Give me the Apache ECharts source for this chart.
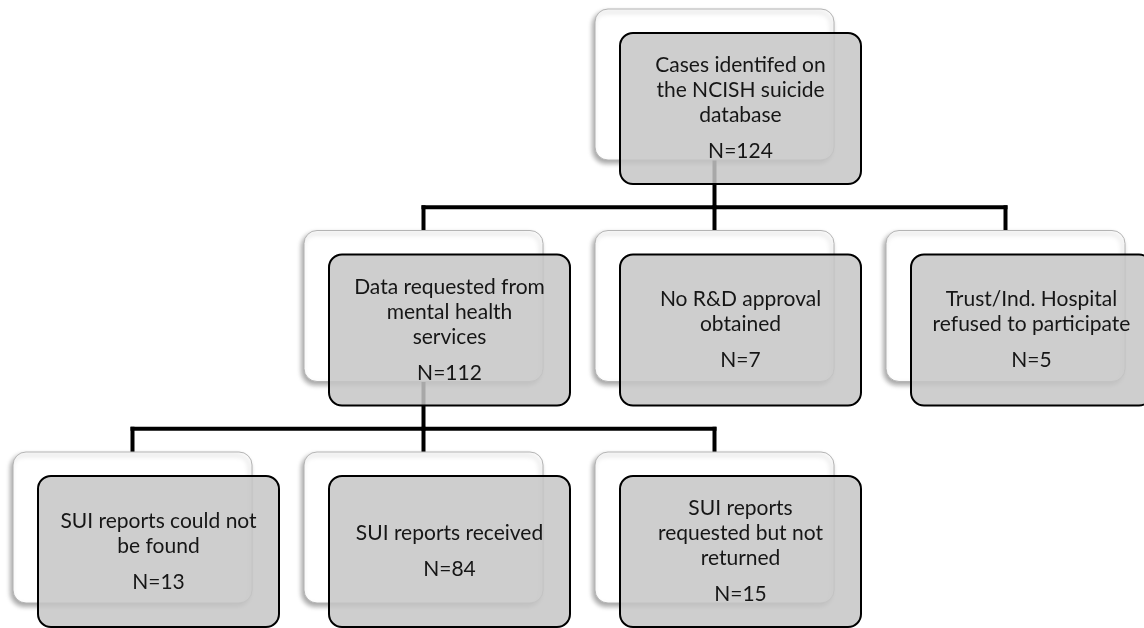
<!DOCTYPE html>
<html>
<head>
<meta charset="utf-8">
<script src="https://cdn.jsdelivr.net/npm/echarts@6/dist/echarts.min.js"></script>
<style>
  html, body { margin: 0; padding: 0; background: #fff; }
  #main { width: 1144px; height: 628px; }
</style>
</head>
<body>
<div id="main"></div>
<script>
// flowchart data
const nodeNames = [
  'Cases identifed on\nthe NCISH suicide\ndatabase',
  'Data requested from\nmental health\nservices',
  'No R&D approval\nobtained',
  'Trust/Ind. Hospital\nrefused to participate',
  'SUI reports could not\nbe found',
  'SUI reports received',
  'SUI reports\nrequested but not\nreturned'
]
const nodeCounts = [124, 112, 7, 5, 13, 84, 15]
// parent of every node (-1 = root)
const nodeParents = [-1, 0, 0, 0, 1, 1, 1]

// layout constants (pixels, axes run 0..1144 / 0..628)
const colStart = 13, colStep = 291
const rowStart = 9, rowStep = 221.5
const boxW = 239, boxH = 151
const shiftX = 25, shiftY = 24

// work out level and column from the tree: children start one column left of parent
let level = [], column = []
nodeParents.forEach((p, i) => {
  if (p < 0) { level[i] = 0; column[i] = 2; return }
  let k = nodeParents.slice(0, i).filter(q => q === p).length
  level[i] = level[p] + 1
  column[i] = column[p] - 1 + k
})

// data for the box series: [x, y, index]
let boxData = nodeNames.map((n, i) => [colStart + colStep * column[i], rowStart + rowStep * level[i], i])

// data for connectors: one item per parent
let parents = [...new Set(nodeParents.filter(p => p >= 0))]
let linkData = parents.map(p => [p])

var myChart = echarts.init(document.getElementById('main'))

function renderBox(params, api) {
  let i = api.value(2)
  let x = api.value(0), y = api.value(1)
  let p0 = api.coord([x, y])
  let p1 = api.coord([x + boxW, y + boxH])
  let g0 = api.coord([x + shiftX, y + shiftY])
  let g1 = api.coord([x + shiftX + boxW + 2, y + shiftY + boxH])
  let cx = (g0[0] + g1[0]) / 2
  let cy = (g0[1] + g1[1]) / 2
  let lines = nodeNames[i].split('\n').length
  let first = cy - ((lines - 1) * 25 + 36) / 2
  return {
    type: 'group',
    children: [
      {
        type: 'rect',
        shape: { x: p0[0], y: p0[1], width: p1[0] - p0[0], height: p1[1] - p0[1], r: 13 },
        style: {
          fill: '#ffffff', stroke: '#b4b4b4', lineWidth: 1,
          shadowBlur: 5, shadowOffsetX: -2, shadowOffsetY: 3, shadowColor: 'rgba(0,0,0,0.35)'
        }
      },
      {
        type: 'rect',
        shape: { x: g0[0], y: g0[1], width: g1[0] - g0[0], height: g1[1] - g0[1], r: 13 },
        style: { fill: 'rgba(198,198,198,0.85)', stroke: '#000', lineWidth: 2 }
      },
      {
        type: 'text',
        style: {
          text: nodeNames[i], x: cx, y: first + (lines - 1) * 12.5,
          align: 'center', verticalAlign: 'middle', lineHeight: 25,
          font: '21px Lato', fill: '#161616'
        }
      },
      {
        type: 'text',
        style: {
          text: 'N=' + nodeCounts[i], x: cx, y: first + (lines - 1) * 25 + 36,
          align: 'center', verticalAlign: 'middle',
          font: '21px Lato', fill: '#161616'
        }
      }
    ]
  }
}

function renderLink(params, api) {
  let p = api.value(0)
  let kids = nodeParents.map((q, i) => q === p ? i : -1).filter(i => i >= 0)
  let px = boxData[p][0] + boxW / 2
  let pBottom = boxData[p][1] + boxH
  let childTop = boxData[kids[0]][1]
  // bus sits halfway between the grey box bottom and the next row
  let busY = (pBottom + shiftY + childTop) / 2
  let xs = kids.map(k => boxData[k][0] + boxW / 2)
  let segs = [[[px, pBottom], [px, busY]], [[Math.min(...xs), busY], [Math.max(...xs), busY]]]
  xs.forEach(x => segs.push([[x, busY], [x, childTop]]))
  return {
    type: 'group',
    children: segs.map(s => {
      let a = api.coord(s[0]), b = api.coord(s[1])
      return {
        type: 'line',
        shape: { x1: a[0], y1: a[1], x2: b[0], y2: b[1] },
        style: { stroke: '#000', lineWidth: 4, lineCap: 'square' }
      }
    })
  }
}

var option = {
  animation: false,
  grid: { left: 0, right: 0, top: 0, bottom: 0 },
  xAxis: { type: 'value', min: 0, max: 1144, show: false },
  yAxis: { type: 'value', min: 0, max: 628, inverse: true, show: false },
  series: [
    { type: 'custom', z: 1, renderItem: renderLink, data: linkData, clip: false },
    { type: 'custom', z: 2, renderItem: renderBox, data: boxData, clip: false }
  ]
}
option && myChart.setOption(option)
</script>
</body>
</html>
